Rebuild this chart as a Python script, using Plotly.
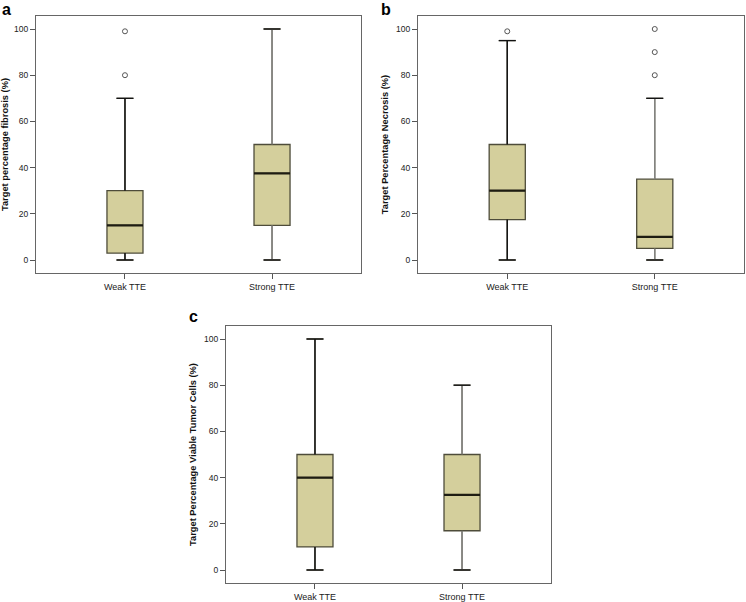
import plotly.graph_objects as go

categories = ["Weak TTE", "Strong TTE"]
panel_letters = ["a", "b", "c"]
y_titles = ["Target percentage fibrosis (%)",
            "Target Percentage Necrosis (%)",
            "Target Percentage Viable Tumor Cells (%)"]

# [Weak, Strong] stats per panel
lower_a = [0, 0];  q1_a = [3, 15];   med_a = [15, 37.5]; q3_a = [30, 50];  upper_a = [70, 100]
out_a = [[80, 99], []]
lower_b = [0, 0];  q1_b = [17.5, 5]; med_b = [30, 10];   q3_b = [50, 35];  upper_b = [95, 70]
out_b = [[99], [80, 90, 100]]
lower_c = [0, 0];  q1_c = [10, 17];  med_c = [40, 32.5]; q3_c = [50, 50];  upper_c = [100, 80]
out_c = [[], []]

tick_vals = [0, 20, 40, 60, 80, 100]

panels = [
    (lower_a, q1_a, med_a, q3_a, upper_a, out_a),
    (lower_b, q1_b, med_b, q3_b, upper_b, out_b),
    (lower_c, q1_c, med_c, q3_c, upper_c, out_c),
]

W, H = 746, 602
# frame pixel boxes in window coords (left, right, top, bottom)
frames = [(36, 361, 16, 273), (418, 744, 16, 273), (226, 551, 326, 583)]
letter_pos = [(0, -1), (379, -1), (187, 306)]

FILL = "#D4CF9C"
EDGE = "#4e4c3a"
whisk_colors = ["#111111", "#8a8a8a"]
BOXW = 0.245
MED_HALF = BOXW / 2


def px_x(p):
    return p / W


def px_y(p):
    return 1 - p / H


fig = go.Figure()
layout = dict(width=W, height=H, margin=dict(l=0, r=0, t=0, b=0),
              paper_bgcolor="white", plot_bgcolor="white", showlegend=False,
              font=dict(family="Liberation Sans, Arial, sans-serif", color="#222"))
annotations = []

for i, (lo, q1, med, q3, up, outs) in enumerate(panels):
    n = "" if i == 0 else str(i + 1)
    xa, ya = "x" + n, "y" + n
    pos = list(range(len(categories)))
    fig.add_trace(go.Box(
        x=pos, q1=q1, median=med, q3=q3, lowerfence=lo, upperfence=up,
        width=BOXW, whiskerwidth=0.47, fillcolor=FILL,
        line=dict(color=EDGE, width=1.3), xaxis=xa, yaxis=ya,
        hoverinfo="skip"))
    for j in pos:
        for (a, b) in [(q3[j], up[j]), (lo[j], q1[j])]:
            fig.add_trace(go.Scatter(x=[j, j], y=[a, b], mode="lines",
                                     line=dict(color=whisk_colors[j], width=1.4 if j == 0 else 1.2),
                                     xaxis=xa, yaxis=ya, hoverinfo="skip"))
        for v in (lo[j], up[j]):
            fig.add_trace(go.Scatter(x=[j - BOXW * 0.235, j + BOXW * 0.235], y=[v, v], mode="lines",
                                     line=dict(color="#111111", width=1.3),
                                     xaxis=xa, yaxis=ya, hoverinfo="skip"))
        fig.add_trace(go.Scatter(x=[j - MED_HALF, j + MED_HALF], y=[med[j], med[j]], mode="lines",
                                 line=dict(color="#1e1d12", width=2.2),
                                 xaxis=xa, yaxis=ya, hoverinfo="skip"))
        if outs[j]:
            fig.add_trace(go.Scatter(x=[j] * len(outs[j]), y=outs[j], mode="markers",
                                     marker=dict(symbol="circle-open", size=5,
                                                 color="#555555", line=dict(width=1)),
                                     xaxis=xa, yaxis=ya, hoverinfo="skip"))
    l, r, t, b = frames[i]
    layout["xaxis" + n] = dict(
        domain=[px_x(l), px_x(r)], range=[-0.605, 1.605], anchor=ya,
        tickvals=pos, ticktext=categories, ticks="outside", ticklen=5,
        tickcolor="#555", showline=True, linecolor="#666", linewidth=1.2,
        mirror=True, showgrid=False, zeroline=False,
        tickfont=dict(size=9, color="#222"), fixedrange=True)
    layout["yaxis" + n] = dict(
        domain=[px_y(b), px_y(t)], range=[-5.63, 105.63], anchor=xa,
        tickvals=tick_vals, ticks="outside", ticklen=5, tickcolor="#555",
        showline=True, linecolor="#666", linewidth=1.2, mirror=True,
        showgrid=False, zeroline=False, tickfont=dict(size=8.5, color="#222"),
        title=dict(text="<b>" + y_titles[i] + "</b>", font=dict(size=9.3, color="#111"), standoff=5),
        automargin=False, fixedrange=True)
    lx, ly = letter_pos[i]
    annotations.append(dict(text="<b>" + panel_letters[i] + "</b>", xref="paper", yref="paper",
                            x=px_x(lx), y=px_y(ly), xanchor="left", yanchor="top",
                            showarrow=False, font=dict(size=16, color="#000")))

layout["annotations"] = annotations
fig.update_layout(**layout)
fig.write_html("out.html", config={"displayModeBar": False},
               post_script="document.body.style.margin='0';")
